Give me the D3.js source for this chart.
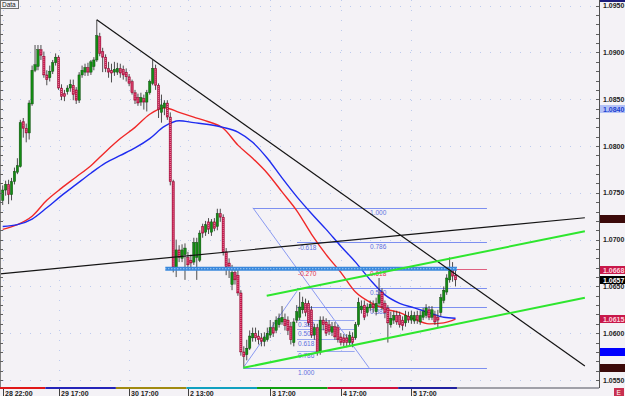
<!DOCTYPE html>
<html lang="en">
<head>
<meta charset="UTF-8">
<title>EURUSD H1</title>
<script src="https://cdnjs.cloudflare.com/ajax/libs/d3/7.8.5/d3.min.js"></script>
<style>
    body { margin: 0; background: #f4f2f6; }
    svg text { font-family: "Liberation Sans", Arial, sans-serif; }
</style>
</head>
<body>
<div id="chart"></div>
<script>
// hourly candles
var opens = [1.0742,1.0753,1.0759,1.0748,1.0762,1.0772,1.0778,1.0826,1.0819,1.0814,
    1.0845,1.0881,1.0885,1.0903,1.0896,1.0876,1.0873,1.0880,1.0889,1.0895,
    1.0862,1.0856,1.0858,1.0862,1.0865,1.0860,1.0849,1.0876,1.0879,1.0884,
    1.0879,1.0885,1.0892,1.0917,1.0901,1.0895,1.0883,1.0881,1.0879,1.0879,
    1.0883,1.0882,1.0879,1.0874,1.0869,1.0857,1.0852,1.0847,1.0851,1.0847,
    1.0857,1.0867,1.0883,1.0865,1.0836,1.0841,1.0846,1.0831,1.0762,1.0670,
    1.0689,1.0680,1.0684,1.0681,1.0678,1.0676,1.0681,1.0678,1.0714,1.0708,
    1.0719,1.0708,1.0719,1.0714,1.0728,1.0724,1.0687,1.0675,1.0652,1.0665,
    1.0662,1.0643,1.0580,1.0577,1.0584,1.0595,1.0600,1.0597,1.0595,1.0591,
    1.0593,1.0598,1.0606,1.0603,1.0609,1.0612,1.0615,1.0614,1.0607,1.0590,
    1.0614,1.0617,1.0625,1.0632,1.0632,1.0625,1.0598,1.0606,1.0580,1.0614,
    1.0612,1.0609,1.0601,1.0607,1.0606,1.0596,1.0595,1.0595,1.0590,1.0596,
    1.0595,1.0609,1.0625,1.0630,1.0622,1.0627,1.0631,1.0623,1.0632,1.0644,
    1.0632,1.0627,1.0609,1.0614,1.0619,1.0619,1.0614,1.0611,1.0618,1.0614,
    1.0613,1.0619,1.0612,1.0617,1.0619,1.0625,1.0617,1.0619,1.0617,1.0622,
    1.0635,1.0644,1.0657,1.0668,1.0662];
var highs = [1.0758,1.0763,1.0764,1.0766,1.0777,1.0787,1.0828,1.0830,1.0824,1.0849,
    1.0886,1.0908,1.0908,1.0908,1.0901,1.0881,1.0886,1.0892,1.0899,1.0897,
    1.0866,1.0860,1.0865,1.0871,1.0871,1.0863,1.0879,1.0886,1.0888,1.0889,
    1.0892,1.0895,1.0935,1.0921,1.0905,1.0898,1.0890,1.0888,1.0890,1.0889,
    1.0888,1.0886,1.0883,1.0877,1.0871,1.0860,1.0856,1.0857,1.0855,1.0860,
    1.0871,1.0892,1.0887,1.0867,1.0855,1.0849,1.0849,1.0836,1.0764,1.0700,
    1.0694,1.0695,1.0696,1.0687,1.0684,1.0702,1.0702,1.0710,1.0717,1.0720,
    1.0723,1.0722,1.0723,1.0733,1.0733,1.0727,1.0691,1.0680,1.0673,1.0670,
    1.0668,1.0646,1.0586,1.0593,1.0603,1.0606,1.0606,1.0603,1.0600,1.0601,
    1.0606,1.0614,1.0612,1.0618,1.0621,1.0629,1.0621,1.0618,1.0612,1.0616,
    1.0630,1.0644,1.0639,1.0637,1.0635,1.0629,1.0610,1.0610,1.0618,1.0618,
    1.0616,1.0614,1.0612,1.0612,1.0609,1.0600,1.0599,1.0599,1.0602,1.0601,
    1.0612,1.0638,1.0635,1.0635,1.0632,1.0635,1.0635,1.0638,1.0659,1.0648,
    1.0635,1.0630,1.0623,1.0624,1.0624,1.0623,1.0618,1.0624,1.0623,1.0624,
    1.0623,1.0624,1.0624,1.0627,1.0631,1.0629,1.0629,1.0624,1.0625,1.0642,
    1.0650,1.0663,1.0681,1.0676,1.0670];
var lows = [1.0737,1.0747,1.0738,1.0742,1.0759,1.0770,1.0777,1.0809,1.0804,1.0807,
    1.0843,1.0879,1.0881,1.0892,1.0873,1.0865,1.0869,1.0877,1.0886,1.0860,
    1.0849,1.0848,1.0855,1.0858,1.0849,1.0845,1.0846,1.0873,1.0875,1.0875,
    1.0876,1.0881,1.0890,1.0896,1.0879,1.0879,1.0873,1.0868,1.0875,1.0876,
    1.0873,1.0871,1.0869,1.0864,1.0855,1.0845,1.0843,1.0843,1.0839,1.0837,
    1.0855,1.0865,1.0860,1.0830,1.0825,1.0833,1.0828,1.0758,1.0665,1.0660,
    1.0676,1.0676,1.0657,1.0670,1.0670,1.0673,1.0657,1.0676,1.0702,1.0704,
    1.0706,1.0704,1.0709,1.0710,1.0719,1.0683,1.0662,1.0659,1.0646,1.0652,
    1.0640,1.0576,1.0564,1.0571,1.0582,1.0591,1.0591,1.0588,1.0586,1.0586,
    1.0591,1.0595,1.0596,1.0600,1.0606,1.0609,1.0603,1.0598,1.0588,1.0586,
    1.0611,1.0614,1.0621,1.0618,1.0608,1.0595,1.0593,1.0576,1.0577,1.0603,
    1.0597,1.0598,1.0597,1.0593,1.0590,1.0587,1.0586,1.0585,1.0587,1.0585,
    1.0593,1.0607,1.0621,1.0614,1.0618,1.0624,1.0622,1.0619,1.0629,1.0625,
    1.0616,1.0590,1.0606,1.0610,1.0609,1.0606,1.0603,1.0607,1.0611,1.0610,
    1.0610,1.0610,1.0609,1.0614,1.0616,1.0614,1.0614,1.0609,1.0606,1.0618,
    1.0632,1.0641,1.0654,1.0655,1.0650];
var closes = [1.0753,1.0759,1.0748,1.0762,1.0773,1.0779,1.0825,1.0819,1.0814,1.0846,
    1.0881,1.0887,1.0903,1.0897,1.0876,1.0871,1.0880,1.0889,1.0895,1.0862,
    1.0853,1.0853,1.0862,1.0866,1.0855,1.0849,1.0876,1.0881,1.0884,1.0879,
    1.0890,1.0892,1.0918,1.0899,1.0895,1.0883,1.0879,1.0878,1.0882,1.0883,
    1.0878,1.0876,1.0874,1.0867,1.0857,1.0849,1.0846,1.0852,1.0847,1.0857,
    1.0869,1.0883,1.0865,1.0839,1.0844,1.0846,1.0831,1.0762,1.0670,1.0689,
    1.0681,1.0689,1.0691,1.0673,1.0675,1.0697,1.0697,1.0707,1.0707,1.0716,
    1.0711,1.0719,1.0712,1.0728,1.0724,1.0687,1.0671,1.0668,1.0665,1.0657,
    1.0643,1.0580,1.0575,1.0584,1.0597,1.0600,1.0595,1.0593,1.0591,1.0596,
    1.0600,1.0606,1.0600,1.0614,1.0616,1.0617,1.0608,1.0603,1.0593,1.0612,
    1.0623,1.0628,1.0633,1.0622,1.0611,1.0598,1.0606,1.0580,1.0614,1.0609,
    1.0600,1.0602,1.0607,1.0596,1.0593,1.0590,1.0590,1.0590,1.0598,1.0590,
    1.0609,1.0633,1.0629,1.0617,1.0628,1.0631,1.0627,1.0632,1.0641,1.0628,
    1.0622,1.0611,1.0616,1.0619,1.0612,1.0609,1.0608,1.0619,1.0614,1.0619,
    1.0619,1.0614,1.0619,1.0623,1.0627,1.0617,1.0625,1.0612,1.0614,1.0638,
    1.0646,1.0659,1.0670,1.0661,1.0657];

// moving averages, sampled every few bars
var maBars = [0,5,10,15,20,25,30,35,40,45,50,55,60,65,70,75,80,85,90,95,100,105,110,115,120,125,130,135,140,145,150,154];
var maRed  = [1.0711,1.0716,1.0725,1.0742,1.0755,1.0767,1.0779,1.0794,1.0808,1.0820,1.0834,1.0841,1.0836,1.0831,1.0826,1.0819,
              1.0801,1.0787,1.0771,1.0751,1.0731,1.0706,1.0684,1.0665,1.0644,1.0633,1.0626,1.0622,1.0615,1.0610,1.0611,1.0615];
var maBlue = [1.0714,1.0716,1.0722,1.0734,1.0747,1.0759,1.0771,1.0782,1.0790,1.0798,1.0808,1.0821,1.0827,1.0825,1.0823,1.0820,
              1.0815,1.0804,1.0787,1.0766,1.0746,1.0728,1.0711,1.0693,1.0676,1.0657,1.0641,1.0632,1.0627,1.0622,1.0617,1.0616];

var priceTicks = [1.0550,1.0600,1.0650,1.0700,1.0750,1.0800,1.0850,1.0900,1.0950];
var timeLabels = ["28 22:00","29 17:00","30 17:00","2 13:00","3 17:00","4 17:00","5 17:00"];
var timeBars   = [0,19,43,63,91,115,139];

// day separator strip along the bottom
var sepEdges  = [-1,14.5,38.5,62.5,86.5,110.5,134.5,154.5,205];
var sepColors = ["#e01818","#2424b8","#a08a10","#10a0c0","#10a010","#d0103c","#2020a0","#a0a0a8"];

// drawn objects: [bar1, price1, bar2, price2]
var trendDown = [32, 1.0935, 198, 1.0565];
var trendFlat = [-0.9, 1.06635, 198, 1.07234];
var chanLow   = [81.8, 1.0563, 198, 1.0638];
var chanHigh  = [89.8, 1.0640, 198, 1.0709];
var zoneLevel = 1.0669, zoneBars = [55.3, 154.5];

var fibA = { b0: 124.6, p0: 1.0563, b1: 85.1, p1: 1.0734, end: 164.7 };
var fibALevels = [1.000, 0.786, 0.618, 0.5, 0.382];
var fibB = { b0: 100.1, p0: 1.0645, b1: 81.8, p1: 1.0563, end: 119.7 };
var fibBLevels = [-0.618, -0.270, 0.382, 0.5, 0.618, 0.786, 1.000];

var boxPrices = [1.0958, 1.0840, 1.0722, 1.0668, 1.0657, 1.0615, 1.0580, 1.0563];
var boxFill   = ["#1c1c7a","#b4c2f6","#3c0a0a","#c8184a","#000000","#c8184a","#0000ff","#3c0a0a"];
var boxText   = ["", "1.0840", "", "1.0668", "1.0657", "1.0615", "", ""];
var boxInk    = ["#ffffff","#2040d0","#3c0a0a","#ffd0dc","#ffffff","#ffd0dc","#0000ff","#3c0a0a"];

var W = 625, H = 396, plotR = 599, plotB = 388;

var svg = d3.select('#chart').append('svg')
    .attr('width', W).attr('height', H);

svg.append('rect').attr('width', W).attr('height', H).attr('fill', '#f4f2f6');

var x = d3.scaleLinear().domain([0, 154]).range([2.7, 455.5]);
var y = d3.scaleLinear().domain([1.0550, 1.0950]).range([380, 5.7]);

svg.append('clipPath').attr('id', 'plot')
    .append('rect').attr('x', 0).attr('y', 0).attr('width', plotR).attr('height', plotB);

var g = svg.append('g').attr('clip-path', 'url(#plot)');

// dotted grid
g.selectAll('line.hgrid').data(priceTicks).enter().append('line')
    .attr('x1', 0).attr('x2', plotR)
    .attr('y1', function(d) { return Math.round(y(d)) + 0.5; })
    .attr('y2', function(d) { return Math.round(y(d)) + 0.5; })
    .attr('stroke', '#bccbef').attr('stroke-dasharray', '1,9');
g.selectAll('line.vgrid').data(timeBars).enter().append('line')
    .attr('y1', 0).attr('y2', plotB)
    .attr('x1', function(d) { return Math.round(x(d)) + 0.5; })
    .attr('x2', function(d) { return Math.round(x(d)) + 0.5; })
    .attr('stroke', '#bccbef').attr('stroke-dasharray', '1,9');

function seg(a, color, w) {
    return g.append('line')
        .attr('x1', x(a[0])).attr('y1', y(a[1]))
        .attr('x2', x(a[2])).attr('y2', y(a[3]))
        .attr('stroke', color).attr('stroke-width', w);
}

// fibonacci A
var fa = g.append('g');
fa.append('line')
    .attr('x1', x(fibA.b1)).attr('y1', y(fibA.p1))
    .attr('x2', x(fibA.b0)).attr('y2', y(fibA.p0))
    .attr('stroke', '#7d8ff0').attr('stroke-width', 0.9);
fibALevels.concat([0]).forEach(function(r) {
    var p = fibA.p0 + r * (fibA.p1 - fibA.p0);
    fa.append('line')
        .attr('x1', x(r === 0 ? 81.8 : (r === 1 ? fibA.b1 : fibB.b0))).attr('x2', x(fibA.end))
        .attr('y1', Math.round(y(p)) + 0.5).attr('y2', Math.round(y(p)) + 0.5)
        .attr('stroke', r === 0.618 ? '#e06080' : '#7d8ff0').attr('stroke-width', 1);
    if (r > 0) {
        fa.append('text').attr('x', x(fibA.b0) + 1).attr('y', y(p) + 7)
            .attr('font-size', 6.5).attr('fill', r === 0.618 ? '#e03050' : '#6070e0')
            .text(r.toFixed(3));
    }
});

// fibonacci B
var fb = g.append('g');
fb.append('line')
    .attr('x1', x(fibB.b1)).attr('y1', y(fibB.p1))
    .attr('x2', x(fibB.b0)).attr('y2', y(fibB.p0))
    .attr('stroke', '#7d8ff0').attr('stroke-width', 0.9);
fibBLevels.forEach(function(r) {
    var p = fibB.p0 + r * (fibB.p1 - fibB.p0);
    if (r > 0 && r < 1) {
        fb.append('line')
            .attr('x1', x(fibB.b0)).attr('x2', x(fibB.end))
            .attr('y1', Math.round(y(p)) + 0.5).attr('y2', Math.round(y(p)) + 0.5)
            .attr('stroke', '#9aa8f0').attr('stroke-width', 1);
    }
    fb.append('text').attr('x', x(fibB.b0) + 1).attr('y', y(p) + (r < 0 ? 6 : 7))
        .attr('font-size', 6.5).attr('fill', r === -0.270 ? '#e03050' : '#6070e0')
        .text(r.toFixed(3));
});

// moving averages
var maLine = d3.line()
    .x(function(d) { return x(d[0]); })
    .y(function(d) { return y(d[1]); })
    .curve(d3.curveMonotoneX);
g.append('path').datum(d3.zip(maBars, maRed)).attr('d', maLine)
    .attr('fill', 'none').attr('stroke', '#f02828').attr('stroke-width', 1.4);
g.append('path').datum(d3.zip(maBars, maBlue)).attr('d', maLine)
    .attr('fill', 'none').attr('stroke', '#1e2cf0').attr('stroke-width', 1.4);

// candles
var bars = d3.range(opens.length);
var cg = g.append('g');
cg.selectAll('line.wick').data(bars).enter().append('line')
    .attr('x1', function(i) { return x(i); }).attr('x2', function(i) { return x(i); })
    .attr('y1', function(i) { return y(highs[i]); })
    .attr('y2', function(i) { return y(lows[i]); })
    .attr('stroke', '#3a3a3a').attr('stroke-width', 0.9);
cg.selectAll('rect.body').data(bars).enter().append('rect')
    .attr('x', function(i) { return x(i) - 1.2; })
    .attr('width', 2.4)
    .attr('y', function(i) { return y(Math.max(opens[i], closes[i])); })
    .attr('height', function(i) { return Math.max(1, Math.abs(y(opens[i]) - y(closes[i]))); })
    .attr('fill', function(i) { return closes[i] >= opens[i] ? '#148c14' : '#c4164a'; })
    .attr('stroke', function(i) { return closes[i] >= opens[i] ? '#0a400a' : '#8c1034'; })
    .attr('stroke-width', 0.4);
cg.selectAll('line.dots').data(bars.filter(function(i) { return closes[i] < opens[i]; }))
    .enter().append('line')
    .attr('x1', function(i) { return x(i); }).attr('x2', function(i) { return x(i); })
    .attr('y1', function(i) { return y(opens[i]) + 1; })
    .attr('y2', function(i) { return y(closes[i]) - 1; })
    .attr('stroke', '#f8a8c0').attr('stroke-width', 0.8).attr('stroke-dasharray', '1,1');

// zone band
g.append('line')
    .attr('x1', x(zoneBars[0])).attr('x2', x(zoneBars[1]))
    .attr('y1', y(zoneLevel)).attr('y2', y(zoneLevel))
    .attr('stroke', '#3a88dc').attr('stroke-width', 4);
g.append('line')
    .attr('x1', x(zoneBars[0])).attr('x2', x(zoneBars[1]))
    .attr('y1', y(zoneLevel)).attr('y2', y(zoneLevel))
    .attr('stroke', '#a8d4f8').attr('stroke-width', 1.2).attr('stroke-dasharray', '1,2');

// trend lines and channel
seg(trendDown, '#141414', 1.2);
seg(trendFlat, '#141414', 1.2);
seg(chanLow, '#2ee62e', 2);
seg(chanHigh, '#2ee62e', 2);

// plot borders
svg.append('line').attr('x1', plotR + 0.5).attr('x2', plotR + 0.5).attr('y1', 0).attr('y2', plotB)
    .attr('stroke', '#505050');
svg.append('line').attr('x1', 0.5).attr('x2', 0.5).attr('y1', 0).attr('y2', plotB)
    .attr('stroke', '#808080');

// minor ticks every 10 pips on both sides
var minor = d3.range(1.0550, 1.0955, 0.0010);
svg.selectAll('line.rt').data(minor).enter().append('line')
    .attr('x1', plotR - 3).attr('x2', plotR)
    .attr('y1', function(d) { return Math.round(y(d)) + 0.5; })
    .attr('y2', function(d) { return Math.round(y(d)) + 0.5; })
    .attr('stroke', '#606060');
svg.selectAll('line.lt').data(minor).enter().append('line')
    .attr('x1', 0).attr('x2', 3)
    .attr('y1', function(d) { return Math.round(y(d)) + 0.5; })
    .attr('y2', function(d) { return Math.round(y(d)) + 0.5; })
    .attr('stroke', '#606060');

// price boxes
boxPrices.forEach(function(p, k) {
    svg.append('rect').attr('x', 600).attr('y', Math.round(y(p)) - 4)
        .attr('width', 25).attr('height', 8).attr('fill', boxFill[k]);
    if (boxText[k]) {
        svg.append('text').attr('x', 603).attr('y', Math.round(y(p)) + 2.5)
            .attr('font-size', 7).attr('font-weight', 'bold').attr('fill', boxInk[k])
            .text(boxText[k]);
    }
});

// price labels
svg.selectAll('text.price').data(priceTicks).enter().append('text')
    .attr('x', 603).attr('y', function(d) { return y(d) + 2.5; })
    .attr('font-size', 7).attr('font-weight', 'bold').attr('fill', '#222')
    .text(function(d) { return d.toFixed(4); });

// day separator strip
sepColors.forEach(function(c, k) {
    svg.append('line')
        .attr('x1', Math.max(0, x(sepEdges[k]))).attr('x2', Math.min(plotR, x(sepEdges[k + 1])))
        .attr('y1', plotB).attr('y2', plotB)
        .attr('stroke', c).attr('stroke-width', 2);
});

// time axis
timeBars.forEach(function(b, k) {
    var xx = Math.round(x(b)) + 0.5;
    svg.append('line').attr('x1', xx).attr('x2', xx).attr('y1', plotB + 1).attr('y2', H)
        .attr('stroke', '#404040');
    svg.append('text').attr('x', xx + 1.5).attr('y', 395.5)
        .attr('font-size', 7).attr('font-weight', 'bold').attr('fill', '#222')
        .text(timeLabels[k]);
});

// corner badges
svg.append('rect').attr('x', 0.5).attr('y', 0.5).attr('width', 18).attr('height', 8)
    .attr('fill', '#f4f2f6').attr('stroke', '#707070');
svg.append('text').attr('x', 2).attr('y', 7).attr('font-size', 6.5).attr('fill', '#222').text('Data');
svg.append('rect').attr('x', 614).attr('y', 388).attr('width', 10).attr('height', 8).attr('fill', '#c83050');
svg.append('text').attr('x', 616.5).attr('y', 395).attr('font-size', 6.5).attr('fill', '#fff').text('E');
</script>
</body>
</html>
